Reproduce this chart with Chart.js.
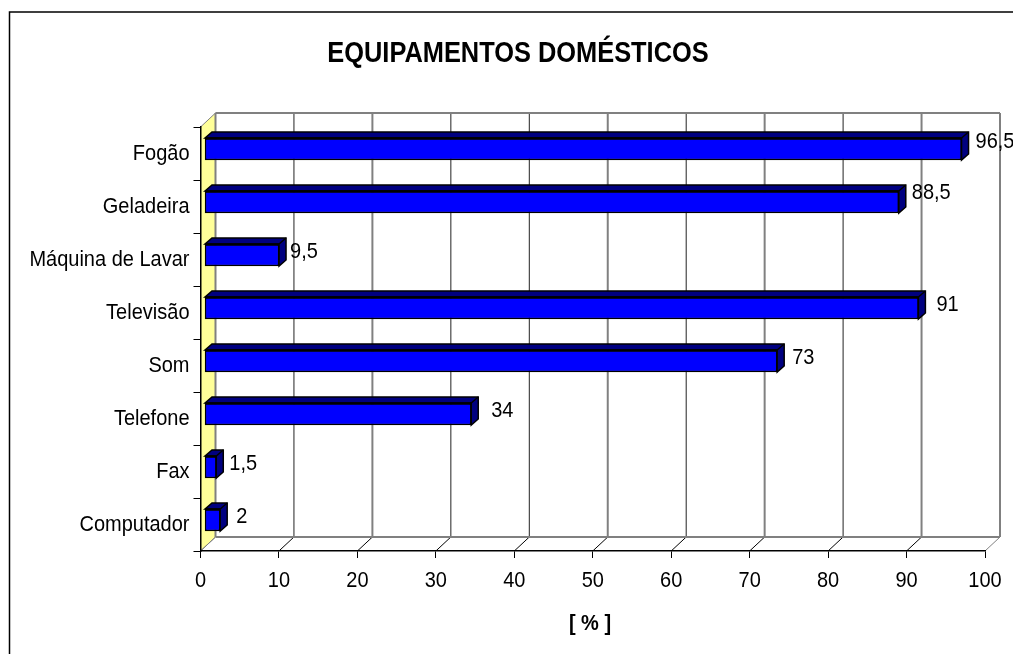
<!DOCTYPE html>
<html lang="pt">
<head>
<meta charset="UTF-8">
<title>Equipamentos domésticos</title>
<script src="https://cdn.jsdelivr.net/npm/chart.js"></script>
<style>
    html, body { margin: 0; padding: 0; background: #fff; overflow: hidden; }
    #wrap { width: 1013px; height: 654px; }
</style>
</head>
<body>
<div id="wrap"><canvas id="chart" width="1013" height="654"></canvas></div>
<script>
const categories = ["Fogão", "Geladeira", "Máquina de Lavar", "Televisão", "Som", "Telefone", "Fax", "Computador"];
const values = [96.5, 88.5, 9.5, 91, 73, 34, 1.5, 2];
const valueLabels = ["96,5", "88,5", "9,5", "91", "73", "34", "1,5", "2"];
const chartTitle = "EQUIPAMENTOS DOMÉSTICOS";
const axisTitle = "[ % ]";

// 3D look: depth of the back wall and of the bars, in px
const wallDepth = { x: 15, y: 14 };
const barDepth = { x: 7, y: 6 };
const barShift = { x: 4, y: -4.5 };
// the labels do not sit at a constant distance from the bars in the original
const labelShift = [[7, -7], [6, -9], [4, -3], [11, -3], [8, -3], [13, -3], [6, -3], [9, -3]];
// grid lines that come out wide and grey in the original, the rest are thin and dark
const wideGrid = [20, 50, 70, 90, 100];

const FONT = '"Liberation Sans", Arial, sans-serif';
const TEXT_STRETCH = 1.14; // the original picture is stretched vertically, so its text is tall

const fake3d = {
    id: "fake3d",
    beforeInit(chart) {
        // stretch every text the chart writes, ticks included
        const ctx = chart.ctx;
        const fillText = ctx.fillText.bind(ctx);
        ctx.fillText = (text, px, py) => {
            ctx.save();
            ctx.translate(px, py);
            ctx.scale(1, TEXT_STRETCH);
            fillText(text, 0, 0);
            ctx.restore();
        };
    },
    beforeDraw(chart) {
        const { ctx, chartArea: a, scales: { x } } = chart;
        const d = wallDepth;
        ctx.save();

        // outer frame, it runs off the picture right and bottom
        ctx.strokeStyle = "#000";
        ctx.lineWidth = 1.5;
        ctx.beginPath();
        ctx.moveTo(9.5, 660);
        ctx.lineTo(9.5, 12);
        ctx.lineTo(1020, 12);
        ctx.stroke();

        // left wall
        ctx.fillStyle = "#FFFF99";
        ctx.beginPath();
        ctx.moveTo(a.left, a.top);
        ctx.lineTo(a.left + d.x, a.top - d.y);
        ctx.lineTo(a.left + d.x, a.bottom - d.y);
        ctx.lineTo(a.left, a.bottom);
        ctx.closePath();
        ctx.fill();
        ctx.strokeStyle = "#808080";
        ctx.lineWidth = 1;
        ctx.stroke();

        // back wall grid
        x.ticks.forEach(t => {
            const px = x.getPixelForValue(t.value);
            const wide = wideGrid.includes(t.value) || t.value === 0;
            ctx.strokeStyle = wide ? "#808080" : "#222";
            ctx.lineWidth = wide ? 2 : 1;
            ctx.beginPath();
            ctx.moveTo(px + d.x, a.top - d.y);
            ctx.lineTo(px + d.x, a.bottom - d.y);
            ctx.stroke();
            // floor
            ctx.strokeStyle = t.value === 0 || t.value === 100 ? "#808080" : "#000";
            ctx.lineWidth = 1;
            ctx.beginPath();
            ctx.moveTo(px, a.bottom);
            ctx.lineTo(px + d.x, a.bottom - d.y);
            ctx.stroke();
        });
        ctx.strokeStyle = "#808080";
        ctx.lineWidth = 2;
        ctx.beginPath();
        ctx.moveTo(a.left + d.x, a.top - d.y);
        ctx.lineTo(a.right + d.x, a.top - d.y);
        ctx.moveTo(a.left + d.x, a.bottom - d.y);
        ctx.lineTo(a.right + d.x, a.bottom - d.y);
        ctx.stroke();
        ctx.restore();
    },
    beforeDatasetDraw(chart) {
        const { ctx } = chart;
        const bd = barDepth;
        ctx.save();
        ctx.translate(barShift.x, barShift.y);
        chart.getDatasetMeta(0).data.forEach(bar => {
            const top = bar.y - bar.height / 2;
            const bottom = bar.y + bar.height / 2;
            ctx.fillStyle = "#000080";
            ctx.strokeStyle = "#000";
            ctx.lineWidth = 1.5;
            ctx.beginPath();
            ctx.moveTo(bar.base, top);
            ctx.lineTo(bar.base + bd.x, top - bd.y);
            ctx.lineTo(bar.x + bd.x, top - bd.y);
            ctx.lineTo(bar.x + bd.x, bottom - bd.y);
            ctx.lineTo(bar.x, bottom);
            ctx.lineTo(bar.x, top);
            ctx.closePath();
            ctx.fill();
            ctx.stroke();
            ctx.beginPath();
            ctx.moveTo(bar.x, top);
            ctx.lineTo(bar.x + bd.x, top - bd.y);
            ctx.stroke();
        });
    },
    afterDatasetDraw(chart) {
        const { ctx } = chart;
        // heavy edge between the top face and the front face
        ctx.strokeStyle = "#000";
        ctx.lineWidth = 2.5;
        chart.getDatasetMeta(0).data.forEach(bar => {
            const top = bar.y - bar.height / 2 + 0.5;
            ctx.beginPath();
            ctx.moveTo(bar.base, top);
            ctx.lineTo(bar.x, top);
            ctx.stroke();
        });
        ctx.restore();
    },
    afterDraw(chart) {
        const { ctx } = chart;
        ctx.save();
        ctx.fillStyle = "#000";

        // value labels
        ctx.font = "20px " + FONT;
        ctx.textAlign = "left";
        ctx.textBaseline = "middle";
        chart.getDatasetMeta(0).data.forEach((bar, i) => {
            const [dx, dy] = labelShift[i];
            ctx.fillText(valueLabels[i], bar.x + barShift.x + barDepth.x + dx, bar.y + barShift.y + dy);
        });

        // titles, the original ones are off centre
        ctx.textAlign = "center";
        ctx.font = "bold 25.4px " + FONT;
        ctx.fillText(chartTitle, 518, 54);
        ctx.font = "bold 20px " + FONT;
        ctx.fillText(axisTitle, 590, 624);
        ctx.restore();
    }
};

new Chart(document.getElementById("chart"), {
    type: "bar",
    data: {
        labels: categories,
        datasets: [{
            data: values,
            backgroundColor: "#0000FF",
            borderColor: "#000",
            borderWidth: 1.5,
            borderSkipped: false,
            barThickness: 22
        }]
    },
    options: {
        indexAxis: "y",
        responsive: false,
        animation: false,
        layout: { padding: { top: 127, right: 28, bottom: 0, left: 0 } },
        plugins: { legend: { display: false }, title: { display: false }, tooltip: { enabled: false } },
        scales: {
            x: {
                min: 0,
                max: 100,
                ticks: { stepSize: 10, color: "#000", font: { family: FONT, size: 20 }, padding: 11, maxRotation: 0 },
                grid: { drawOnChartArea: false, drawTicks: true, tickLength: 7, color: "#000", lineWidth: 1 },
                border: { color: "#000", width: 1.5 },
                afterFit(scale) { scale.height = 103; }
            },
            y: {
                ticks: { color: "#000", font: { family: FONT, size: 20 }, padding: 4 },
                grid: { drawOnChartArea: false, drawTicks: true, tickLength: 7, color: "#000", offset: true, lineWidth: 1 },
                border: { color: "#000", width: 1.5 },
                afterFit(scale) { scale.width = 200.5; }
            }
        }
    },
    plugins: [fake3d]
});
</script>
</body>
</html>
